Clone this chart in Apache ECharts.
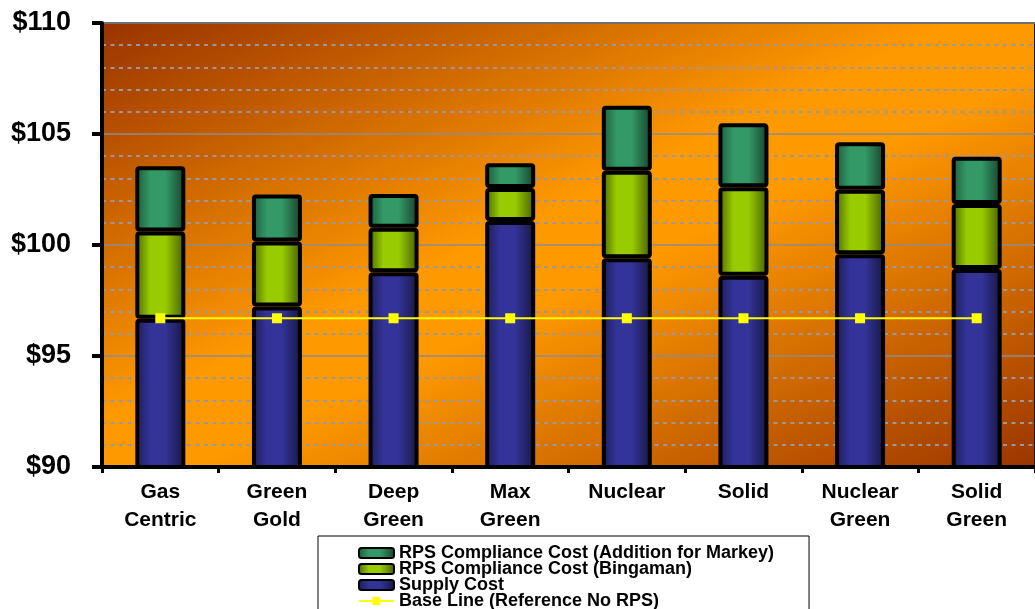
<!DOCTYPE html>
<html>
<head>
<meta charset="utf-8">
<script src="https://cdn.jsdelivr.net/npm/echarts@6/dist/echarts.min.js"></script>
<style>
html,body{margin:0;padding:0;background:#fff;}
#chart{width:1035px;height:609px;}
</style>
</head>
<body>
<div id="chart"></div>
<script>
var categories = ['Gas\nCentric','Green\nGold','Deep\nGreen','Max\nGreen','Nuclear','Solid','Nuclear\nGreen','Solid\nGreen'];
var supplyCost = [96.68, 97.23, 98.77, 101.08, 99.40, 98.62, 99.58, 98.92];
var bingamanCost = [3.93, 2.93, 2.01, 1.49, 3.95, 3.98, 2.91, 2.93];
var markeyCost = [2.94, 2.11, 1.52, 1.11, 2.92, 2.88, 2.14, 2.13];
var baseLine = [96.7, 96.7, 96.7, 96.7, 96.7, 96.7, 96.7, 96.7];
var yTicks = [90, 95, 100, 105, 110];

var FONT = "'Liberation Sans', Arial, sans-serif";
function hGrad(edgeL, mid, edgeR){
  return new echarts.graphic.LinearGradient(0,0,1,0,[
    {offset:0,color:edgeL},{offset:0.3,color:mid},{offset:0.6,color:mid},{offset:1,color:edgeR}
  ]);
}
var chart = echarts.init(document.getElementById('chart'));
var barCommon = {
  type:'bar', stack:'total', barWidth:50,
  emphasis:{disabled:true}
};
chart.setOption({
  animation:false,
  backgroundColor:'#ffffff',
  grid:{
    left:102, right:-10, top:23, bottom:142, show:true,
    backgroundColor:new echarts.graphic.LinearGradient(0,0,0.364,1.636,[
      {offset:0,color:'#993300'},{offset:0.45,color:'#FF9900'},{offset:0.55,color:'#FF9900'},{offset:1,color:'#993300'}
    ]),
    borderColor:'#1a1a1a', borderWidth:2
  },
  legend:{
    orient:'vertical', left:318, top:536, height:120,
    backgroundColor:'#ffffff', borderColor:'#000', borderWidth:1,
    padding:[8,35,10,40], itemGap:-2, itemWidth:35, itemHeight:10,
    textStyle:{fontFamily:FONT, fontWeight:'bold', fontSize:18, color:'#000', lineHeight:16},
    data:['RPS Compliance Cost (Addition for Markey)','RPS Compliance Cost (Bingaman)','Supply Cost','Base Line (Reference No RPS)']
  },
  xAxis:{
    type:'category', data:categories,
    axisLine:{lineStyle:{color:'#000', width:4}},
    axisTick:{show:true, length:6, lineStyle:{color:'#000', width:3}},
    axisLabel:{fontFamily:FONT, fontWeight:'bold', fontSize:21, color:'#000', lineHeight:28, margin:11, interval:0}
  },
  yAxis:{
    type:'value', min:yTicks[0], max:yTicks[yTicks.length-1], interval:5,
    axisLine:{show:true, lineStyle:{color:'#000', width:4}},
    axisTick:{show:true, length:10, lineStyle:{color:'#000', width:4}},
    axisLabel:{fontFamily:FONT, fontWeight:'bold', fontSize:27, color:'#000', margin:31,
      formatter:function(v){return '$'+v;}},
    splitLine:{show:true, lineStyle:{color:'#8c8c8c', width:1.5}},
    minorTick:{show:false, splitNumber:5},
    minorSplitLine:{show:true, lineStyle:{color:'#999999', width:2, type:[4,4.5]}}
  },
  series:[
    Object.assign({}, barCommon, {
      name:'Supply Cost', data:supplyCost,
      itemStyle:{color:hGrad('#1c1c55','#333399','#16163f'), borderColor:'#000', borderWidth:4, borderRadius:2}
    }),
    Object.assign({}, barCommon, {
      name:'RPS Compliance Cost (Bingaman)', data:bingamanCost,
      itemStyle:{color:hGrad('#4a6600','#99CC00','#445a00'), borderColor:'#000', borderWidth:4, borderRadius:2}
    }),
    Object.assign({}, barCommon, {
      name:'RPS Compliance Cost (Addition for Markey)', data:markeyCost,
      itemStyle:{color:hGrad('#1d5a3b','#339966','#173f2a'), borderColor:'#000', borderWidth:4, borderRadius:2}
    }),
    {
      name:'Base Line (Reference No RPS)', type:'line', data:baseLine, z:5,
      symbol:'rect', symbolSize:10,
      itemStyle:{color:'#FFFF00'},
      lineStyle:{color:'#FFFF00', width:2},
      emphasis:{disabled:true}
    }
  ]
});
</script>
</body>
</html>
